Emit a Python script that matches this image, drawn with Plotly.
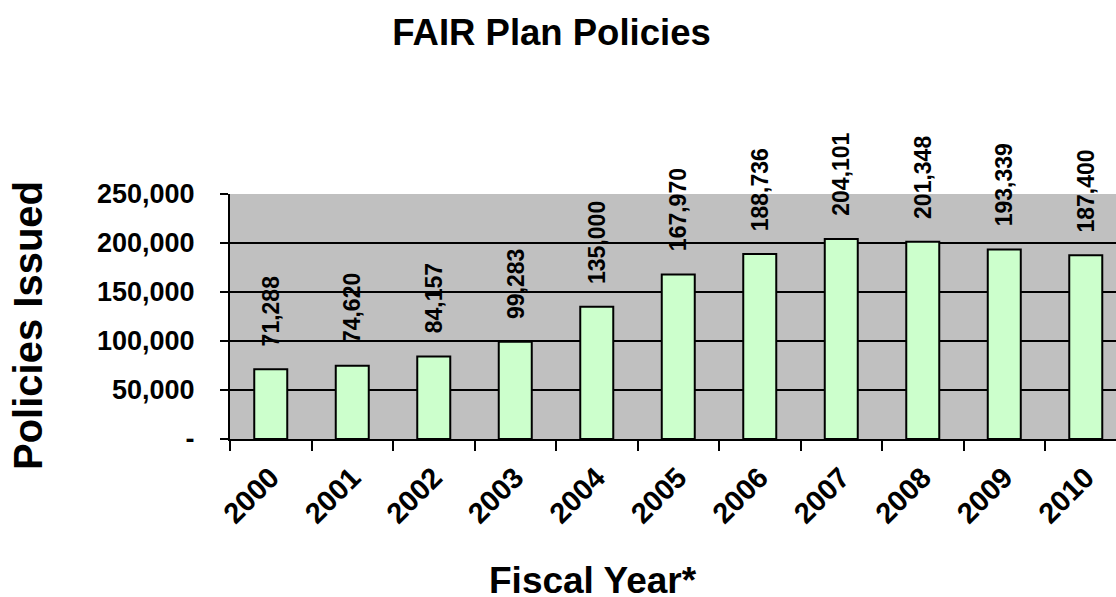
import plotly.graph_objects as go

# Fiscal years and number of FAIR Plan policies issued
years = ["2000", "2001", "2002", "2003", "2004", "2005",
         "2006", "2007", "2008", "2009", "2010"]
policies = [71288, 74620, 84157, 99283, 135000, 167970,
            188736, 204101, 201348, 193339, 187400]

y_tick_vals = [0, 50000, 100000, 150000, 200000, 250000]
y_tick_text = ["-", "50,000", "100,000", "150,000", "200,000", "250,000"]

FONT = "Liberation Sans, Arial, sans-serif"

fig = go.Figure()
fig.add_trace(go.Bar(
    x=years,
    y=policies,
    width=0.405,
    marker=dict(color="#CCFFCC", line=dict(color="black", width=2)),
    hoverinfo="x+y",
))

# value labels written vertically above each bar (x given as category index)
for i, v in enumerate(policies):
    fig.add_annotation(
        x=i, y=v, xref="x", yref="y",
        text=f"{v:,}", textangle=-90,
        showarrow=False, yanchor="bottom", xanchor="center", yshift=21,
        font=dict(family=FONT, size=23, color="black", weight="bold"),
    )

# axis titles
fig.add_annotation(
    text="Policies Issued", textangle=-90, showarrow=False,
    xref="paper", yref="paper", x=(28 - 230) / 886, y=(439 - 326) / 245,
    xanchor="center", yanchor="middle",
    font=dict(family=FONT, size=40, color="black", weight="bold"),
)
fig.add_annotation(
    text="Fiscal Year*", showarrow=False,
    xref="paper", yref="paper", x=(593 - 230) / 886, y=(439 - 580) / 245,
    xanchor="center", yanchor="middle",
    font=dict(family=FONT, size=37, color="black", weight="bold"),
)

fig.update_layout(
    width=1116, height=597,
    margin=dict(l=230, r=0, t=194, b=158, pad=0),
    paper_bgcolor="white",
    plot_bgcolor="#C0C0C0",
    showlegend=False,
    title=dict(
        text="FAIR Plan Policies",
        x=551.5 / 1116, xanchor="center", xref="container",
        y=(597 - 32) / 597, yanchor="middle", yref="container",
        font=dict(family=FONT, size=36.5, color="black", weight="bold"),
    ),
    xaxis=dict(
        type="category",
        range=[-0.5, 10.371],
        tickson="boundaries",
        ticks="outside", ticklen=10, tickwidth=2, tickcolor="black",
        showline=True, linecolor="black", linewidth=2,
        showgrid=False,
        tickangle=-45,
        ticklabelstandoff=8,
        tickfont=dict(family=FONT, size=29, color="black", weight="bold"),
    ),
    yaxis=dict(
        range=[0, 250000],
        tickvals=y_tick_vals, ticktext=y_tick_text,
        ticks="outside", ticklen=8, tickwidth=2, tickcolor="black",
        showline=True, linecolor="black", linewidth=2,
        showgrid=True, gridcolor="black", gridwidth=2,
        zeroline=False,
        ticklabelstandoff=20,
        tickfont=dict(family=FONT, size=27, color="black", weight="bold"),
    ),
)

fig.write_html("out.html")
